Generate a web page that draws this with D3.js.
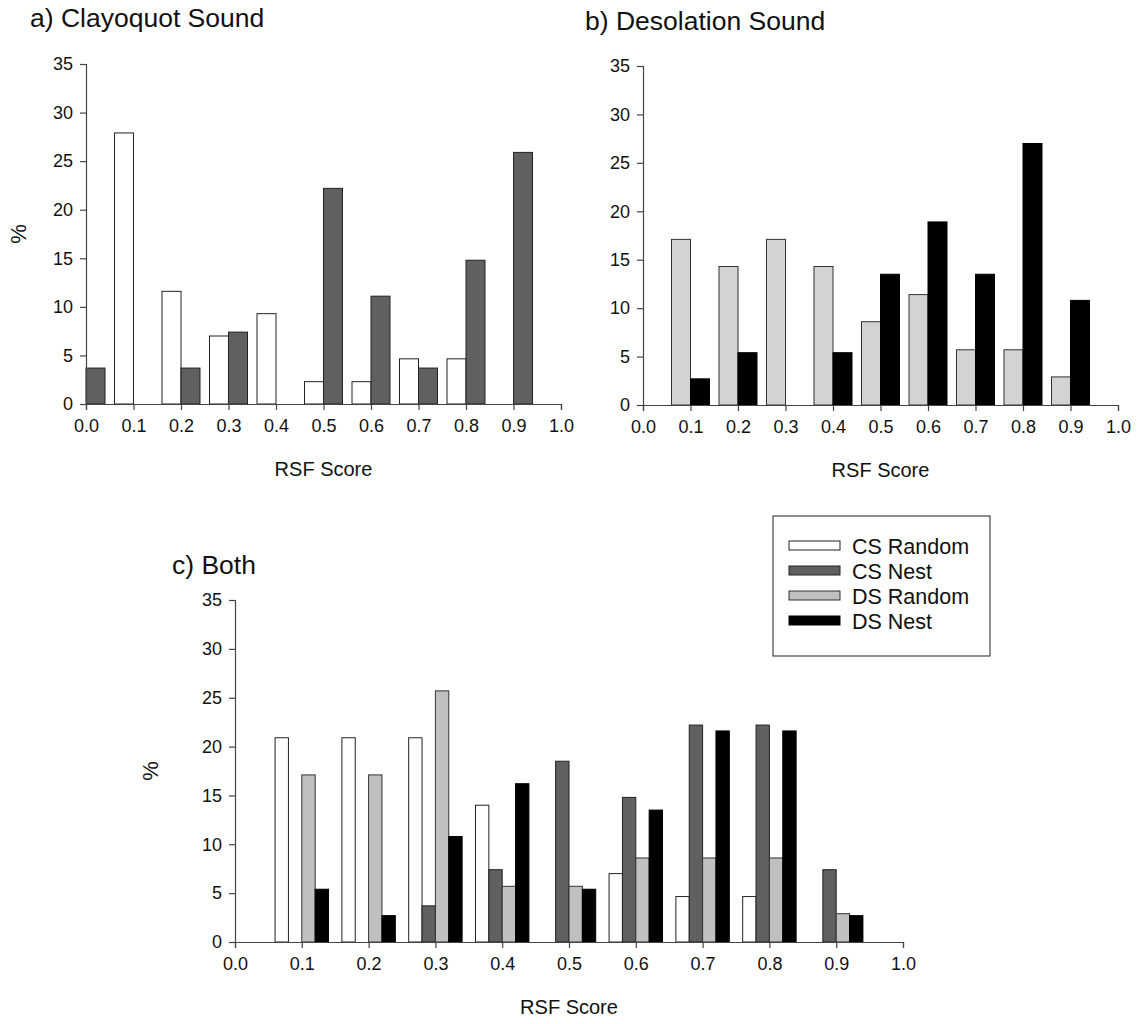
<!DOCTYPE html>
<html>
<head>
<meta charset="utf-8">
<script src="https://cdn.jsdelivr.net/npm/d3@7"></script>
<style>
  body { margin: 0; background: #fff; }
  svg { display: block; font-family: "Liberation Sans", Arial, sans-serif; }
</style>
</head>
<body>
<svg id="chart" width="1141" height="1024"></svg>
<script>
// RSF score bins (bar groups are centred on these values)
const scoreBins = [0.0, 0.1, 0.2, 0.3, 0.4, 0.5, 0.6, 0.7, 0.8, 0.9, 1.0];
const yTicks = [0, 5, 10, 15, 20, 25, 30, 35];

// Percent of locations per bin
const csRandom = [0, 27.9, 11.6, 7.0, 9.3, 2.3, 2.3, 4.65, 4.65, 0, 0];
const csNest   = [3.7, 0, 3.7, 7.4, 0, 22.2, 11.1, 3.7, 14.8, 25.9, 0];
const dsRandom = [0, 17.1, 14.3, 17.1, 14.3, 8.6, 11.4, 5.7, 5.7, 2.9, 0];
const dsNest   = [0, 2.7, 5.4, 0, 5.4, 13.5, 18.9, 13.5, 27.0, 10.8, 0];

const bothCsRandom = [0, 20.9, 20.9, 20.9, 14.0, 0, 7.0, 4.65, 4.65, 0, 0];
const bothCsNest   = [0, 0, 0, 3.7, 7.4, 18.5, 14.8, 22.2, 22.2, 7.4, 0];
const bothDsRandom = [0, 17.1, 17.1, 25.7, 5.7, 5.7, 8.6, 8.6, 8.6, 2.9, 0];
const bothDsNest   = [0, 5.4, 2.7, 10.8, 16.2, 5.4, 13.5, 21.6, 21.6, 2.7, 0];

const seriesNames = ["CS Random", "CS Nest", "DS Random", "DS Nest"];

const svg = d3.select("#chart");

function panel(opts) {
  const g = svg.append("g");
  const x = d3.scaleLinear().domain([0, 1]).range([opts.x0, opts.x1]);
  const y = d3.scaleLinear().domain([0, 35]).range([opts.yBottom, opts.yTop]);
  const groupWidth = 0.08;
  const barW = groupWidth / opts.series.length;

  opts.series.forEach((s, si) => {
    const data = s.values.map((v, i) => ({ bin: scoreBins[i], v }));
    g.append("g").selectAll("rect")
      .data(data.filter(d => d.v > 0))
      .join("rect")
      .attr("x", d => x(d.bin - groupWidth / 2 + si * barW))
      .attr("width", d => x(barW) - x(0))
      .attr("y", d => y(d.v))
      .attr("height", d => y(0) - y(d.v))
      .attr("fill", s.fill)
      .attr("stroke", s.stroke)
      .attr("stroke-width", 1);
  });

  const yAxis = g.append("g")
    .attr("transform", `translate(${opts.x0},0)`)
    .call(d3.axisLeft(y).tickValues(yTicks).tickSize(6).tickPadding(7).tickFormat(d3.format("d")));
  const xAxis = g.append("g")
    .attr("transform", `translate(0,${opts.yBottom})`)
    .call(d3.axisBottom(x).tickValues(scoreBins).tickSize(6).tickPadding(9).tickFormat(d3.format(".1f")));
  [yAxis, xAxis].forEach(a => {
    a.select(".domain").attr("stroke", "#444").attr("stroke-width", 1.2);
    a.selectAll(".tick line").attr("stroke", "#444").attr("stroke-width", 1.2);
    a.selectAll(".tick text").attr("font-size", 18).attr("fill", "#111")
      .attr("font-family", "'Liberation Sans', Arial, sans-serif");
  });

  g.append("text")
    .attr("x", opts.titleX).attr("y", opts.titleY)
    .attr("font-size", 26.5).attr("fill", "#111")
    .text(opts.title);
  g.append("text")
    .attr("x", (opts.x0 + opts.x1) / 2).attr("y", opts.yBottom + 72)
    .attr("text-anchor", "middle").attr("font-size", 20).attr("fill", "#111")
    .text("RSF Score");
  if (opts.showY) {
    g.append("text")
      .attr("transform", `translate(${opts.yLabelX},${(opts.yTop + opts.yBottom) / 2}) rotate(-90)`)
      .attr("text-anchor", "middle").attr("font-size", 22).attr("fill", "#111")
      .text("%");
  }
}

const fills = {
  csRandom: { fill: "#ffffff", stroke: "#222" },
  csNest:   { fill: "#606060", stroke: "#222" },
  dsRandomB:{ fill: "#d3d3d3", stroke: "#333" },
  dsRandom: { fill: "#c0c0c0", stroke: "#333" },
  dsNest:   { fill: "#000000", stroke: "#000" }
};

panel({
  title: "a) Clayoquot Sound", titleX: 30, titleY: 27,
  x0: 86, x1: 561, yTop: 64, yBottom: 404, showY: true, yLabelX: 26,
  series: [
    { values: csRandom, ...fills.csRandom },
    { values: csNest, ...fills.csNest }
  ]
});

panel({
  title: "b) Desolation Sound", titleX: 585, titleY: 30,
  x0: 643, x1: 1118, yTop: 66, yBottom: 405, showY: false,
  series: [
    { values: dsRandom, ...fills.dsRandomB },
    { values: dsNest, ...fills.dsNest }
  ]
});

panel({
  title: "c) Both", titleX: 172, titleY: 574,
  x0: 235, x1: 903, yTop: 600, yBottom: 942, showY: true, yLabelX: 158,
  series: [
    { values: bothCsRandom, ...fills.csRandom },
    { values: bothCsNest, ...fills.csNest },
    { values: bothDsRandom, ...fills.dsRandom },
    { values: bothDsNest, ...fills.dsNest }
  ]
});

// Legend
const legend = svg.append("g").attr("transform", "translate(773,516)");
legend.append("rect")
  .attr("width", 217).attr("height", 140)
  .attr("fill", "#fff").attr("stroke", "#222").attr("stroke-width", 1);
const legendStyles = [fills.csRandom, fills.csNest, fills.dsRandom, fills.dsNest];
seriesNames.forEach((name, i) => {
  const row = legend.append("g").attr("transform", `translate(0,${30 + i * 25})`);
  row.append("rect")
    .attr("x", 16).attr("y", -5).attr("width", 51).attr("height", 9)
    .attr("fill", legendStyles[i].fill).attr("stroke", legendStyles[i].stroke);
  row.append("text")
    .attr("x", 79).attr("y", 7.5)
    .attr("font-size", 21.5).attr("fill", "#111")
    .text(name);
});
</script>
</body>
</html>
